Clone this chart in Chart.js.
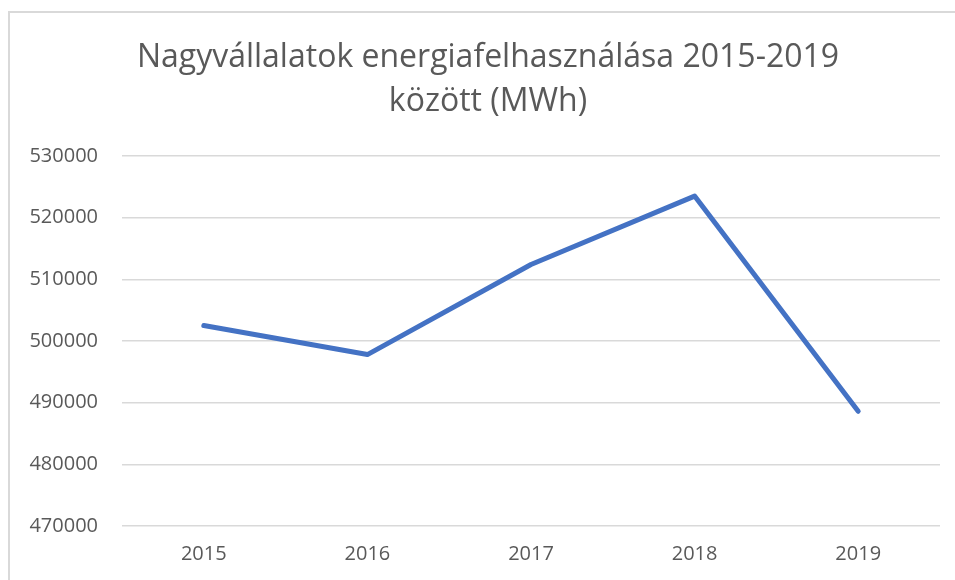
<!DOCTYPE html>
<html>
<head>
<meta charset="utf-8">
<script src="https://cdn.jsdelivr.net/npm/chart.js@4"></script>
<style>
    html, body { margin: 0; padding: 0; background: #ffffff; overflow: hidden; }
    #frame {
        position: absolute;
        left: 8px;
        top: 11px;
        width: 970px;
        height: 600px;
        border: 2px solid #d9d9d9;
        box-sizing: border-box;
    }
    #wrap { position: absolute; left: 0; top: 0; width: 955px; height: 580px; }
</style>
</head>
<body>
<div id="frame"></div>
<div id="wrap"><canvas id="lineChart"></canvas></div>
<script>
// Chart data
const years = ["2015", "2016", "2017", "2018", "2019"];
const energyMWh = [502500, 497800, 512400, 523500, 488600];
const titleLines = ["Nagyvállalatok energiafelhasználása 2015-2019", "között (MWh)"];
const yMin = 470000;
const yMax = 530000;
const yStep = 10000;

// the original title is centred on a frame wider than the window, nudge it right
const titleShift = {
    id: "titleShift",
    afterLayout(chart) {
        if (chart.titleBlock) chart.titleBlock.left = 36;
    }
};

document.addEventListener("DOMContentLoaded", () => {
    const ctx = document.getElementById("lineChart").getContext("2d");
    const textColor = "#595959";
    const gridColor = "#d9d9d9";
    const fontFamily = "'Open Sans', 'Noto Sans', sans-serif";

    new Chart(ctx, {
        type: "line",
        data: {
            labels: years,
            datasets: [{
                label: "MWh",
                data: energyMWh,
                borderColor: "#4472c4",
                borderWidth: 5,
                pointRadius: 0,
                fill: false,
                tension: 0,
                borderCapStyle: "round",
                borderJoinStyle: "round"
            }]
        },
        plugins: [titleShift],
        options: {
            responsive: true,
            maintainAspectRatio: false,
            animation: false,
            layout: { padding: { left: 0, right: 15, top: 0, bottom: 0 } },
            plugins: {
                legend: { display: false },
                tooltip: { enabled: false },
                title: {
                    display: true,
                    text: titleLines,
                    color: textColor,
                    font: { family: fontFamily, size: 32, weight: "normal", lineHeight: 1.375 },
                    padding: { top: 36, bottom: 32 }
                }
            },
            scales: {
                x: {
                    offset: true,
                    grid: { display: false, drawTicks: false },
                    border: { display: false },
                    afterFit: (scale) => { scale.height = 54; },
                    ticks: {
                        color: textColor,
                        font: { family: fontFamily, size: 20 },
                        padding: 16
                    }
                },
                y: {
                    min: yMin,
                    max: yMax,
                    grid: { color: gridColor, lineWidth: 1.5, drawTicks: false },
                    border: { display: false },
                    afterFit: (scale) => { scale.width = 122; },
                    ticks: {
                        stepSize: yStep,
                        color: textColor,
                        font: { family: fontFamily, size: 20 },
                        padding: 24,
                        callback: (v) => String(v)
                    }
                }
            }
        }
    });
});
</script>
</body>
</html>
